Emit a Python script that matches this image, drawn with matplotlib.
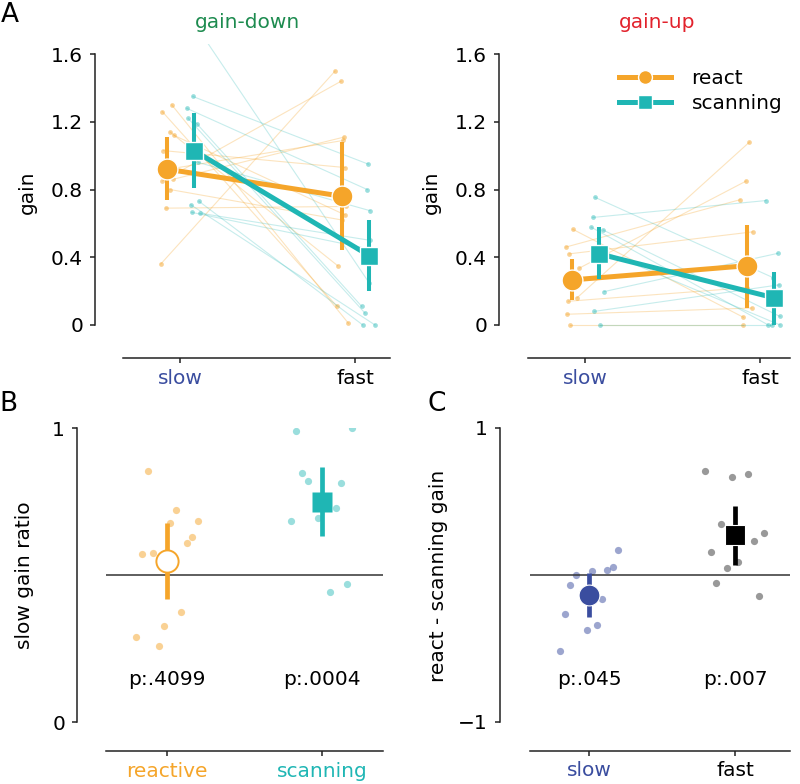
import matplotlib
matplotlib.use('Agg')
import matplotlib.pyplot as plt
from matplotlib.lines import Line2D

ORANGE = '#f5a52a'
TEAL = '#1fb6b4'
BLUE = '#3a4d9f'
GREEN = '#1d8b4f'
RED = '#e2222c'
FS = 14.5

conditions = ['slow', 'fast']
cond_colors = [BLUE, 'black']
groups = ['reactive', 'scanning']
group_colors = [ORANGE, TEAL]

# ---------------- Panel A : gain-down ----------------
gd_react_slow = [1.30, 1.26, 1.14, 1.12, 1.03, 0.92, 0.86, 0.85, 0.69, 0.36, 0.80]
gd_react_fast = [0.01, 0.11, 0.35, 0.65, 0.93, 1.09, 1.11, 1.44, 0.70, 1.50, 0.62]
gd_react_xs = [-0.047, -0.101, -0.057, -0.034, -0.095, -0.069, -0.042, -0.101, -0.082, -0.110, -0.057]
gd_react_xf = [-0.038, -0.103, -0.099, -0.057, -0.057, -0.067, -0.063, -0.080, -0.051, -0.114, -0.074]
gd_scan_slow = [1.75, 1.35, 1.28, 1.22, 1.19, 0.96, 0.73, 0.71, 0.665, 0.66]
gd_scan_fast = [0.25, 0.95, 0.80, 0.07, 0.11, 0.675, 0.0, 0.0, 0.45, 0.50]
gd_scan_xs = [0.103, 0.073, 0.038, 0.047, 0.095, 0.105, 0.109, 0.061, 0.067, 0.114]
gd_scan_xf = [0.080, 0.076, 0.070, 0.057, 0.038, 0.086, 0.044, 0.114, 0.074, 0.086]
gd_react_mean = [0.92, 0.76]
gd_react_lo = [0.74, 0.44]
gd_react_hi = [1.11, 1.08]
gd_scan_mean = [1.03, 0.41]
gd_scan_lo = [0.81, 0.20]
gd_scan_hi = [1.25, 0.62]

# ---------------- Panel A : gain-up ----------------
gu_react_slow = [0.565, 0.46, 0.42, 0.335, 0.16, 0.14, 0.063, 0.0]
gu_react_fast = [0.045, 0.74, 0.55, 0.85, 1.08, 0.22, 0.10, 0.0]
gu_react_xs = [-0.070, -0.110, -0.090, -0.034, -0.046, -0.095, -0.105, -0.086]
gu_react_xf = [-0.095, -0.114, -0.042, -0.080, -0.061, -0.076, -0.047, -0.099]
gu_scan_slow = [0.754, 0.635, 0.577, 0.56, 0.197, 0.08, 0.0, 0.45]
gu_scan_fast = [0.28, 0.735, 0.0, 0.05, 0.423, 0.237, 0.0, 0.0]
gu_scan_xs = [0.057, 0.044, 0.036, 0.105, 0.109, 0.053, 0.086, 0.069]
gu_scan_xf = [0.073, 0.034, 0.046, 0.114, 0.101, 0.110, 0.069, 0.114]
gu_react_mean = [0.266, 0.35]
gu_react_lo = [0.15, 0.10]
gu_react_hi = [0.39, 0.59]
gu_scan_mean = [0.42, 0.16]
gu_scan_lo = [0.27, 0.0]
gu_scan_hi = [0.58, 0.31]

a_yticks = [0, 0.4, 0.8, 1.2, 1.6]
a_yticklabels = ['0', '0.4', '0.8', '1.2', '1.6']

# ---------------- Panel B : slow gain ratio ----------------
b_react_vals = [0.854, 0.721, 0.685, 0.678, 0.630, 0.610, 0.573, 0.575, 0.374, 0.327, 0.289, 0.259]
b_react_x = [-0.125, 0.058, 0.202, 0.019, 0.163, 0.129, -0.159, -0.088, 0.092, -0.017, -0.200, -0.052]
b_scan_vals = [0.991, 1.0, 0.846, 0.820, 0.814, 0.728, 0.695, 0.684, 0.469, 0.443]
b_scan_x = [-0.168, 0.196, -0.129, -0.092, 0.123, 0.088, -0.026, -0.202, 0.159, 0.052]
b_mean = [0.549, 0.749]
b_lo = [0.417, 0.633]
b_hi = [0.678, 0.866]
b_pvals = ['p:.4099', 'p:.0004']

# ---------------- Panel C : react - scanning gain ----------------
c_slow_vals = [0.166, 0.050, 0.030, 0.027, -0.004, -0.068, -0.168, -0.265, -0.342, -0.376, -0.521]
c_slow_x = [0.199, 0.165, 0.124, 0.018, -0.094, -0.130, 0.089, -0.169, 0.053, -0.018, -0.203]
c_fast_vals = [0.703, 0.663, 0.687, 0.347, 0.282, 0.231, 0.156, 0.088, 0.048, -0.059, -0.145]
c_fast_x = [-0.204, -0.021, 0.091, -0.094, 0.201, 0.128, -0.165, 0.023, -0.055, -0.128, 0.162]
c_mean = [-0.138, 0.27]
c_lo = [-0.286, 0.066]
c_hi = [0.014, 0.469]
c_pvals = ['p:.045', 'p:.007']

W, H = 800, 784
fig = plt.figure(figsize=(W / 100, H / 100), dpi=100)


def px_axes(x0, x1, ytop, ybot):
    return fig.add_axes([x0 / W, 1 - ybot / H, (x1 - x0) / W, (ybot - ytop) / H])


def style(ax, left_off, bot_off, ybounds):
    for s in ['top', 'right']:
        ax.spines[s].set_visible(False)
    ax.spines['left'].set_position(('outward', left_off * 0.72))
    ax.spines['bottom'].set_position(('outward', bot_off * 0.72))
    ax.spines['left'].set_bounds(*ybounds)
    for s in ['left', 'bottom']:
        ax.spines[s].set_linewidth(1.1)
        ax.spines[s].set_color('#222222')
    ax.tick_params(axis='both', length=3.6, width=1.1, labelsize=FS, color='#222222')
    ax.tick_params(axis='y', pad=5)
    ax.tick_params(axis='x', pad=4)


def color_xlabels(ax, colors):
    for lab, c in zip(ax.get_xticklabels(), colors):
        lab.set_color(c)


def panel_a(ax, rs, rf, rxs, rxf, ss, sf, sxs, sxf, rm, rlo, rhi, sm, slo, shi):
    for y0, y1, x0, x1 in zip(rs, rf, rxs, rxf):
        ax.plot([0 + x0, 1 + x1], [y0, y1], color=ORANGE, lw=0.8, alpha=0.3, zorder=1)
        ax.plot([0 + x0, 1 + x1], [y0, y1], ls='none', marker='o', ms=3.4, color=ORANGE,
                alpha=0.5, mec='none', zorder=1)
    for y0, y1, x0, x1 in zip(ss, sf, sxs, sxf):
        ax.plot([0 + x0, 1 + x1], [y0, y1], color=TEAL, lw=0.8, alpha=0.25, zorder=1)
        ax.plot([0 + x0, 1 + x1], [y0, y1], ls='none', marker='o', ms=3.4, color=TEAL,
                alpha=0.45, mec='none', zorder=1)
    rx = [0 - 0.073, 1 - 0.073]
    sx = [0 + 0.08, 1 + 0.08]
    ax.plot(rx, rm, color=ORANGE, lw=3.6, zorder=4, solid_capstyle='butt')
    ax.vlines(rx, rlo, rhi, color=ORANGE, lw=2.9, zorder=4)
    ax.plot(rx, rm, ls='none', marker='o', ms=15, color=ORANGE, mec='white', mew=1.0, zorder=5)
    ax.plot(sx, sm, color=TEAL, lw=3.6, zorder=6, solid_capstyle='butt')
    ax.vlines(sx, slo, shi, color=TEAL, lw=2.9, zorder=6)
    ax.plot(sx, sm, ls='none', marker='s', ms=13, color=TEAL, mec='white', mew=1.0, zorder=7)
    ax.set_ylim(-0.03, 1.66)
    ax.set_yticks(a_yticks)
    ax.set_yticklabels(a_yticklabels)
    ax.set_xticks([0, 1])
    ax.set_xticklabels(conditions)


# A left
axA1 = px_axes(123, 390, 44, 330)
panel_a(axA1, gd_react_slow, gd_react_fast, gd_react_xs, gd_react_xf,
        gd_scan_slow, gd_scan_fast, gd_scan_xs, gd_scan_xf,
        gd_react_mean, gd_react_lo, gd_react_hi, gd_scan_mean, gd_scan_lo, gd_scan_hi)
axA1.set_xlim(-0.326, 1.2)
style(axA1, 28, 28, (0, 1.6))
color_xlabels(axA1, cond_colors)

# A right
axA2 = px_axes(528, 790, 44, 330)
panel_a(axA2, gu_react_slow, gu_react_fast, gu_react_xs, gu_react_xf,
        gu_scan_slow, gu_scan_fast, gu_scan_xs, gu_scan_xf,
        gu_react_mean, gu_react_lo, gu_react_hi, gu_scan_mean, gu_scan_lo, gu_scan_hi)
axA2.set_xlim(-0.326, 1.171)
style(axA2, 29, 28, (0, 1.6))
color_xlabels(axA2, cond_colors)

leg_handles = [
    Line2D([], [], color=ORANGE, lw=3.6, marker='o', ms=10, mec='white', mew=1.0),
    Line2D([], [], color=TEAL, lw=3.6, marker='s', ms=9.5, mec='white', mew=1.0),
]
fig.legend(leg_handles, ['react', 'scanning'], loc='center left',
           bbox_to_anchor=(619 / W, 1 - 91 / H), frameon=False, fontsize=FS,
           handlelength=2.6, handletextpad=1.0, labelspacing=0.3, borderpad=0,
           borderaxespad=0)

fig.text(248 / W, 1 - 23 / H, 'gain-down', color=GREEN, fontsize=FS, ha='center', va='center')
fig.text(657 / W, 1 - 23 / H, 'gain-up', color=RED, fontsize=FS, ha='center', va='center')
fig.text(27 / W, 1 - 192 / H, 'gain', fontsize=FS, rotation=90, ha='center', va='center')
fig.text(431 / W, 1 - 192 / H, 'gain', fontsize=FS, rotation=90, ha='center', va='center')

# ---------------- B ----------------
axB = px_axes(106, 383, 428, 722)
axB.axhline(0.5, color='#333333', lw=1.1, zorder=2)
axB.plot([0 + x for x in b_react_x], b_react_vals, ls='none', marker='o', ms=5.2,
         color=ORANGE, alpha=0.5, mec='none', zorder=1)
axB.plot([1 + x for x in b_scan_x], b_scan_vals, ls='none', marker='o', ms=5.2,
         color=TEAL, alpha=0.45, mec='none', zorder=1)
axB.vlines([0], [b_lo[0]], [b_hi[0]], color=ORANGE, lw=3.4, zorder=3)
axB.plot([0], [b_mean[0]], ls='none', marker='o', ms=16, mfc='white', mec=ORANGE, mew=1.4, zorder=4)
axB.vlines([1], [b_lo[1]], [b_hi[1]], color=TEAL, lw=3.4, zorder=3)
axB.plot([1], [b_mean[1]], ls='none', marker='s', ms=14, color=TEAL, mec='none', zorder=4)
for i, p in enumerate(b_pvals):
    axB.text(i, 0.146, p, fontsize=FS, ha='center', va='center')
axB.set_xlim(-0.394, 1.394)
axB.set_ylim(0, 1)
axB.set_yticks([0, 1])
axB.set_yticklabels(['0', '1'])
axB.set_xticks([0, 1])
axB.set_xticklabels(groups)
style(axB, 29, 29, (0, 1))
color_xlabels(axB, group_colors)
fig.text(25 / W, 1 - 575 / H, 'slow gain ratio', fontsize=FS, rotation=90, ha='center', va='center')

# ---------------- C ----------------
axC = px_axes(530, 790, 427.7, 721.7)
axC.axhline(0, color='#333333', lw=1.1, zorder=2)
axC.plot([0 + x for x in c_slow_x], c_slow_vals, ls='none', marker='o', ms=5.2,
         color=BLUE, alpha=0.5, mec='none', zorder=1)
axC.plot([1 + x for x in c_fast_x], c_fast_vals, ls='none', marker='o', ms=5.2,
         color='black', alpha=0.4, mec='none', zorder=1)
axC.vlines([0], [c_lo[0]], [c_hi[0]], color=BLUE, lw=3.4, zorder=3)
axC.plot([0], [c_mean[0]], ls='none', marker='o', ms=15, color=BLUE, mec='white', mew=0.8, zorder=4)
axC.vlines([1], [c_lo[1]], [c_hi[1]], color='black', lw=3.4, zorder=3)
axC.plot([1], [c_mean[1]], ls='none', marker='s', ms=14, color='black', mec='white', mew=0.8, zorder=4)
for i, p in enumerate(c_pvals):
    axC.text(i, -0.71, p, fontsize=FS, ha='center', va='center')
axC.set_xlim(-0.407, 1.377)
axC.set_ylim(-1, 1)
axC.set_yticks([-1, 1])
axC.set_yticklabels(['\u22121', '1'])
axC.set_xticks([0, 1])
axC.set_xticklabels(conditions)
style(axC, 30, 29, (-1, 1))
color_xlabels(axC, cond_colors)
fig.text(439 / W, 1 - 575.5 / H, 'react - scanning gain', fontsize=FS, rotation=90,
         ha='center', va='center')

# panel letters
fig.text(10 / W, 1 - 15 / H, 'A', fontsize=19, ha='center', va='center')
fig.text(8 / W, 1 - 404 / H, 'B', fontsize=19, ha='center', va='center')
fig.text(437 / W, 1 - 404 / H, 'C', fontsize=19, ha='center', va='center')

fig.savefig('out.png', dpi=100)
